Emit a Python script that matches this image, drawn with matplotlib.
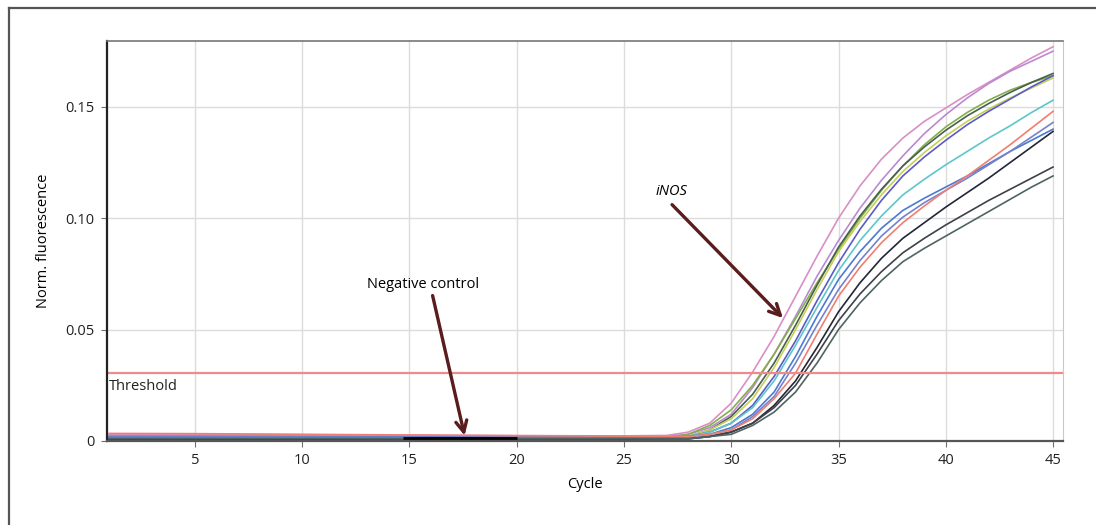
import numpy as np
import matplotlib.pyplot as plt
from matplotlib.lines import Line2D

cycles = [1, 5, 10, 15, 20, 25, 27, 28, 29, 30, 31, 32, 33, 34, 35, 36,
          37, 38, 39, 40, 41, 42, 43, 44, 45]

# baseline part (cycles 1..27) + growth part (28..45)
pink = [0.0030, 0.0030, 0.0028, 0.0026, 0.0024, 0.0023, 0.0025,
        0.004, 0.008, 0.017, 0.031, 0.047, 0.065, 0.083, 0.100, 0.1145,
        0.1265, 0.136, 0.1435, 0.1495, 0.1555, 0.161, 0.1665, 0.172, 0.177]
violet = [0.0024, 0.0024, 0.0023, 0.0022, 0.0021, 0.0020, 0.0020,
          0.003, 0.006, 0.012, 0.024, 0.039, 0.056, 0.074, 0.090, 0.1045,
          0.117, 0.128, 0.138, 0.1465, 0.154, 0.1605, 0.166, 0.1705, 0.175]
olive = [0.0012, 0.0012, 0.0012, 0.0013, 0.0013, 0.0014, 0.0016,
         0.003, 0.007, 0.014, 0.025, 0.039, 0.055, 0.071, 0.086, 0.100,
         0.1125, 0.1235, 0.133, 0.141, 0.1475, 0.153, 0.1575, 0.161, 0.164]
darkgreen = [0.0014, 0.0014, 0.0014, 0.0014, 0.0014, 0.0014, 0.0015,
             0.002, 0.005, 0.011, 0.021, 0.035, 0.052, 0.070, 0.087, 0.101,
             0.113, 0.1235, 0.132, 0.1395, 0.146, 0.1515, 0.1565, 0.161, 0.165]
yellow = [0.0016, 0.0016, 0.0016, 0.0016, 0.0016, 0.0016, 0.0016,
          0.002, 0.005, 0.010, 0.019, 0.033, 0.050, 0.068, 0.085, 0.0985,
          0.1105, 0.121, 0.1295, 0.137, 0.1435, 0.149, 0.154, 0.1585, 0.163]
bluepurple = [0.0018, 0.0018, 0.0018, 0.0017, 0.0017, 0.0016, 0.0016,
              0.002, 0.004, 0.008, 0.016, 0.029, 0.045, 0.063, 0.080, 0.095,
              0.108, 0.119, 0.1275, 0.135, 0.142, 0.148, 0.1535, 0.159, 0.164]
cyan = [0.0010, 0.0010, 0.0011, 0.0011, 0.0012, 0.0013, 0.0014,
        0.002, 0.004, 0.008, 0.015, 0.027, 0.043, 0.060, 0.0765, 0.090,
        0.101, 0.1105, 0.1175, 0.124, 0.130, 0.136, 0.1415, 0.1475, 0.153]
blue = [0.0020, 0.0020, 0.0019, 0.0018, 0.0017, 0.0016, 0.0015,
        0.002, 0.003, 0.006, 0.012, 0.022, 0.038, 0.056, 0.0725, 0.085,
        0.0955, 0.1035, 0.109, 0.114, 0.119, 0.1245, 0.130, 0.135, 0.140]
indigo = [0.0017, 0.0017, 0.0017, 0.0016, 0.0016, 0.0015, 0.0015,
          0.002, 0.003, 0.005, 0.011, 0.020, 0.035, 0.052, 0.068, 0.081,
          0.092, 0.1005, 0.107, 0.1125, 0.118, 0.124, 0.130, 0.1365, 0.143]
salmon = [0.0034, 0.0033, 0.0030, 0.0027, 0.0024, 0.0022, 0.0020,
          0.002, 0.003, 0.005, 0.010, 0.019, 0.0305, 0.048, 0.065, 0.078,
          0.089, 0.098, 0.1055, 0.1125, 0.119, 0.126, 0.133, 0.1405, 0.148]
navy = [0.0008, 0.0008, 0.0008, 0.0009, 0.0009, 0.0009, 0.0010,
        0.001, 0.002, 0.004, 0.008, 0.016, 0.027, 0.042, 0.058, 0.071,
        0.082, 0.091, 0.098, 0.105, 0.1115, 0.118, 0.125, 0.132, 0.139]
darkgray = [0.0010, 0.0010, 0.0010, 0.0010, 0.0010, 0.0010, 0.0010,
            0.001, 0.002, 0.004, 0.008, 0.015, 0.025, 0.039, 0.054, 0.066,
            0.076, 0.0845, 0.091, 0.097, 0.1025, 0.108, 0.113, 0.118, 0.123]
slate = [0.0011, 0.0011, 0.0011, 0.0011, 0.0011, 0.0011, 0.0011,
         0.001, 0.002, 0.003, 0.007, 0.013, 0.022, 0.035, 0.050, 0.062,
         0.072, 0.0805, 0.0865, 0.092, 0.0975, 0.103, 0.1085, 0.114, 0.119]

curves = [
    (pink, '#d98fc6'), (violet, '#b98ad2'), (olive, '#86ad4c'),
    (darkgreen, '#46604e'), (yellow, '#c7cf5a'), (bluepurple, '#5a5cc4'),
    (cyan, '#5ec6c8'), (blue, '#4b7ad0'), (indigo, '#7582cc'),
    (salmon, '#f07f6f'), (navy, '#23263a'), (darkgray, '#3d4249'),
    (slate, '#4f6462'),
]

# negative control: flat at zero
neg_cycles = [14.7, 20.0]
neg_values = [0.0007, 0.0007]

threshold = 0.0305

plt.rcParams['font.family'] = ['Open Sans', 'DejaVu Sans']
plt.rcParams['font.size'] = 10.5

fig = plt.figure(figsize=(10.96, 5.25), dpi=100)
ax = fig.add_axes([0.0976, 0.16, 0.8724, 0.762])

for vals, col in curves:
    ax.plot(cycles, vals, color=col, lw=1.2)
ax.plot(neg_cycles, neg_values, color='black', lw=3.5, solid_capstyle='butt')

ax.axhline(threshold, color='#f08a8a', lw=1.6)
ax.text(1.0, threshold - 0.0025, 'Threshold', va='top', ha='left', color='#222222')

ax.set_xlim(0.9, 45.47)
ax.set_ylim(0, 0.1796)
ax.set_xticks([5, 10, 15, 20, 25, 30, 35, 40, 45])
ax.set_yticks([0, 0.05, 0.10, 0.15])
ax.set_yticklabels(['0', '0.05', '0.10', '0.15'])
ax.grid(color='#dcdcdc', lw=1)
ax.set_axisbelow(True)
ax.tick_params(length=4, color='#707070', labelcolor='#222222', pad=5)

ax.spines['left'].set_color('#222222')
ax.spines['left'].set_linewidth(1.6)
ax.spines['bottom'].set_color('#555555')
ax.spines['bottom'].set_linewidth(1.6)
ax.spines['top'].set_color('#777777')
ax.spines['top'].set_linewidth(1.2)
ax.spines['right'].set_color('#c8c8c8')

ax.set_xlabel('Cycle', labelpad=6)
ax.set_ylabel('Norm. fluorescence', labelpad=10)

arrow = dict(arrowstyle='->', color='#5a1c1c', lw=2.4, mutation_scale=20)
ax.annotate('', xy=(32.5, 0.0543), xytext=(27.15, 0.107), arrowprops=arrow)
ax.text(27.2, 0.1085, 'iNOS', style='italic', ha='center', va='bottom')
ax.annotate('', xy=(17.6, 0.0012), xytext=(16.05, 0.0665), arrowprops=arrow)
ax.text(15.65, 0.067, 'Negative control', ha='center', va='bottom')

# outer frame (left and top edges only)
fig.add_artist(Line2D([0.0085, 0.0085], [0, 0.985], color='#555555', lw=1.6))
fig.add_artist(Line2D([0.0085, 1.0], [0.985, 0.985], color='#555555', lw=1.6))

fig.savefig('out.png', dpi=100)
